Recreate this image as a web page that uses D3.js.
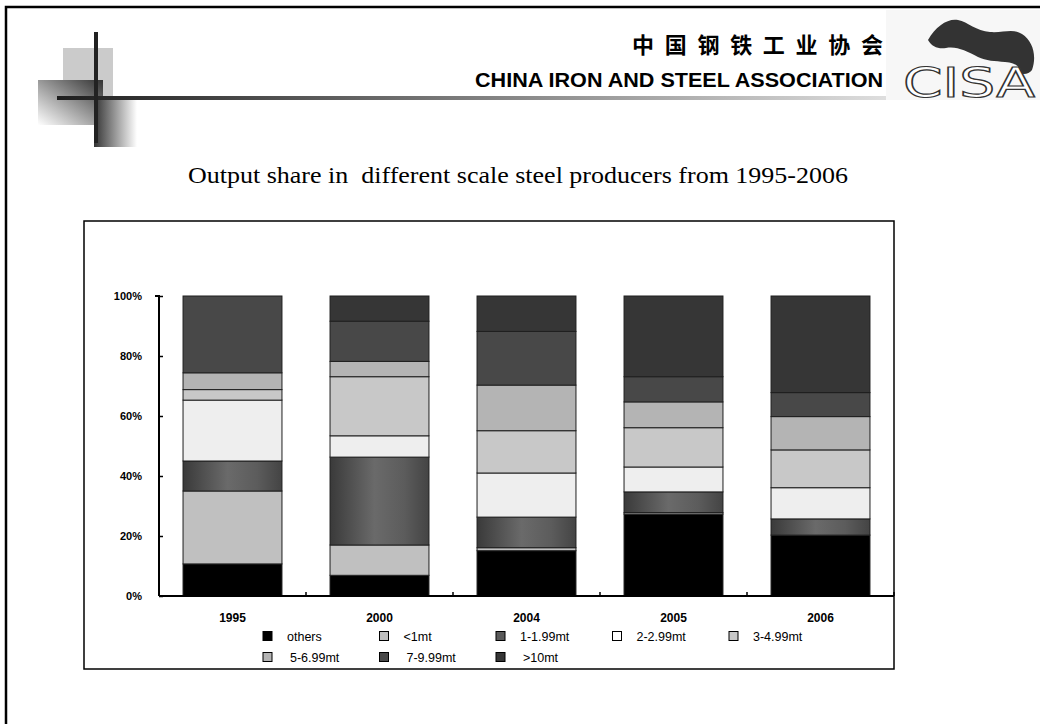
<!DOCTYPE html>
<html>
<head>
<meta charset="utf-8">
<script src="https://cdn.jsdelivr.net/npm/d3@7"></script>
<style>
  body { margin: 0; background: #fff; }
  svg { display: block; }
</style>
</head>
<body>
<div id="slide"></div>
<script>
// values, percent of total output
var years = ["1995", "2000", "2004", "2005", "2006"];
var others = [10.7, 6.9, 15.1, 27.3, 20.3];
var under1 = [24.3, 10.1, 1.0, 0.5, 0];
var mt1 = [10.0, 29.3, 10.2, 6.9, 5.4];
var mt2 = [20.3, 7.1, 14.7, 8.3, 10.4];
var mt3 = [3.5, 19.7, 14.1, 13.1, 12.6];
var mt5 = [5.6, 5.1, 15.2, 8.6, 11.1];
var mt7 = [25.6, 13.4, 17.9, 8.4, 8.0];
var mt10 = [0, 8.4, 11.8, 26.9, 32.2];
var seriesNames = ["others", "<1mt", "1-1.99mt", "2-2.99mt", "3-4.99mt", "5-6.99mt", "7-9.99mt", ">10mt"];
var yTicks = [0, 20, 40, 60, 80, 100];

var barFill = ["#000000", "#c0c0c0", "url(#gradMid)", "#eeeeee", "#c8c8c8", "#b4b4b4", "#484848", "#363636"];
var keyFill = ["#000000", "#c0c0c0", "#5a5a5a", "#ffffff", "#c8c8c8", "#b4b4b4", "#484848", "#363636"];

var width = 1040, height = 724;

var svg = d3.select('#slide').append('svg')
  .attr('width', width)
  .attr('height', height);

var defs = svg.append('defs');

var gm = defs.append('linearGradient').attr('id', 'gradMid');
gm.append('stop').attr('offset', '0%').attr('stop-color', '#3a3a3a');
gm.append('stop').attr('offset', '45%').attr('stop-color', '#6a6a6a');
gm.append('stop').attr('offset', '75%').attr('stop-color', '#5c5c5c');
gm.append('stop').attr('offset', '100%').attr('stop-color', '#444444');

var gd = defs.append('linearGradient').attr('id', 'gradDiag')
  .attr('x1', 1).attr('y1', 0).attr('x2', 0).attr('y2', 1);
gd.append('stop').attr('offset', '0%').attr('stop-color', '#333333');
gd.append('stop').attr('offset', '100%').attr('stop-color', '#ffffff');

var gh = defs.append('linearGradient').attr('id', 'gradStrip');
gh.append('stop').attr('offset', '0%').attr('stop-color', '#333333');
gh.append('stop').attr('offset', '100%').attr('stop-color', '#ffffff');

var gl = defs.append('linearGradient').attr('id', 'gradLine');
gl.append('stop').attr('offset', '0%').attr('stop-color', '#1e1e1e');
gl.append('stop').attr('offset', '100%').attr('stop-color', '#dedede');

// slide frame
svg.append('path')
  .attr('d', 'M6,724 V7 H1040')
  .attr('fill', 'none')
  .attr('stroke', '#000')
  .attr('stroke-width', 2.5);

// header ornament
var head = svg.append('g');
head.append('rect').attr('x', 63).attr('y', 48).attr('width', 50).attr('height', 52).attr('fill', '#cbcbcb');
head.append('rect').attr('x', 38).attr('y', 80).attr('width', 65).attr('height', 45).attr('fill', 'url(#gradDiag)');
head.append('rect').attr('x', 94).attr('y', 100).attr('width', 43).attr('height', 47).attr('fill', 'url(#gradStrip)');
head.append('rect').attr('x', 57).attr('y', 96).attr('width', 830).attr('height', 4).attr('fill', 'url(#gradLine)');
head.append('rect').attr('x', 94).attr('y', 32).attr('width', 4).attr('height', 111).attr('fill', '#222');

head.append('text')
  .attr('x', 883).attr('y', 53)
  .attr('text-anchor', 'end')
  .attr('textLength', 251)
  .attr('lengthAdjust', 'spacing')
  .style('font-family', '"Noto Sans CJK SC", sans-serif')
  .style('font-weight', 'bold')
  .style('font-size', '22px')
  .text('中国钢铁工业协会');

head.append('text')
  .attr('x', 883).attr('y', 87)
  .attr('text-anchor', 'end')
  .attr('textLength', 408)
  .attr('lengthAdjust', 'spacingAndGlyphs')
  .style('font-family', '"Liberation Sans", Arial, sans-serif')
  .style('font-weight', 'bold')
  .style('font-size', '21px')
  .text('CHINA IRON AND STEEL ASSOCIATION');

// CISA logo
var logo = svg.append('g');
logo.append('rect').attr('x', 886).attr('y', 10).attr('width', 154).attr('height', 90).attr('fill', '#f7f7f7');
logo.append('path')
  .attr('d', 'M928,40 C936,26 948,18 958,20 C968,22 976,31 990,32 C1004,33 1012,28 1022,34 C1033,41 1037,56 1032,70 C1029,74 1024,75 1019,73 C1021,66 1015,63 1005,62 C995,61 986,61 978,57 C966,51 957,46 946,48 C938,49 932,47 928,40 Z')
  .attr('fill', '#333');
logo.append('text')
  .attr('x', 903).attr('y', 97)
  .attr('textLength', 132)
  .attr('lengthAdjust', 'spacingAndGlyphs')
  .attr('fill', '#fff')
  .attr('stroke', '#333')
  .attr('stroke-width', 1.2)
  .style('font-family', '"DejaVu Sans", sans-serif')
  .style('font-size', '40px')
  .text('CISA');

// title
svg.append('text')
  .attr('x', 518).attr('y', 183)
  .attr('text-anchor', 'middle')
  .attr('textLength', 660)
  .attr('lengthAdjust', 'spacingAndGlyphs')
  .style('white-space', 'pre')
  .style('font-family', '"Liberation Serif", "Times New Roman", serif')
  .style('font-size', '24px')
  .text('Output share in  different scale steel producers from 1995-2006');

// chart box
svg.append('rect')
  .attr('x', 84).attr('y', 221)
  .attr('width', 810).attr('height', 448)
  .attr('fill', 'none')
  .attr('stroke', '#000')
  .attr('stroke-width', 1.5);

var table = years.map(function (yr, i) {
  return {
    year: yr,
    'others': others[i], '<1mt': under1[i], '1-1.99mt': mt1[i], '2-2.99mt': mt2[i],
    '3-4.99mt': mt3[i], '5-6.99mt': mt5[i], '7-9.99mt': mt7[i], '>10mt': mt10[i]
  };
});

var x = d3.scaleBand()
  .domain(years)
  .range([159, 894])
  .paddingInner(0.327)
  .paddingOuter(0.1635);

var y = d3.scaleLinear()
  .domain([0, 100])
  .range([596, 296]);

var stacked = d3.stack().keys(seriesNames)(table);

var layers = svg.append('g').selectAll('g')
  .data(stacked)
  .enter().append('g')
  .attr('fill', function (d, i) { return barFill[i]; });

layers.selectAll('rect')
  .data(function (d) { return d.filter(function (s) { return s[1] - s[0] > 0; }); })
  .enter().append('rect')
  .attr('x', function (d) { return x(d.data.year); })
  .attr('y', function (d) { return y(d[1]); })
  .attr('width', x.bandwidth())
  .attr('height', function (d) { return y(d[0]) - y(d[1]); })
  .attr('stroke', '#1e1e1e')
  .attr('stroke-width', 1);

// y axis, ticks point into the plot
var yAxis = svg.append('g')
  .attr('transform', 'translate(159,0)')
  .call(d3.axisLeft(y).tickValues(yTicks).tickSize(-4).tickPadding(17)
    .tickFormat(function (d) { return d + '%'; }));
yAxis.select('.domain').attr('stroke-width', 2).attr('d', 'M-4,296 H0 V596');
yAxis.selectAll('.tick line').attr('stroke-width', 1.5);
yAxis.selectAll('text')
  .style('font-family', '"Liberation Sans", Arial, sans-serif')
  .style('font-weight', 'bold')
  .style('font-size', '11px');

// x axis
var xAxis = svg.append('g')
  .attr('transform', 'translate(0,596)')
  .call(d3.axisBottom(x).tickSize(0).tickPadding(17));
xAxis.select('.domain').attr('stroke-width', 2).attr('d', 'M159,0 H894');
xAxis.selectAll('text')
  .style('font-family', '"Liberation Sans", Arial, sans-serif')
  .style('font-weight', 'bold')
  .style('font-size', '12px');

var half = x.step() * x.paddingInner() / 2;
xAxis.selectAll('.boundary')
  .data(years)
  .enter().append('line')
  .attr('class', 'boundary')
  .attr('x1', function (d) { return x(d) + x.bandwidth() + half; })
  .attr('x2', function (d) { return x(d) + x.bandwidth() + half; })
  .attr('y1', 0).attr('y2', -4)
  .attr('stroke', '#000')
  .attr('stroke-width', 1.5);

// legend, 5 columns
var legend = svg.append('g').selectAll('g')
  .data(seriesNames)
  .enter().append('g')
  .attr('transform', function (d, i) {
    return 'translate(' + (263 + (i % 5) * 116.5) + ',' + (636 + Math.floor(i / 5) * 21) + ')';
  });

legend.append('rect')
  .attr('x', 0).attr('y', -4.5)
  .attr('width', 9).attr('height', 9)
  .attr('fill', function (d, i) { return keyFill[i]; })
  .attr('stroke', '#000')
  .attr('stroke-width', 1);

legend.append('text')
  .attr('x', function (d, i) { return i >= 5 ? 27 : 24; })
  .attr('y', 4.5)
  .style('font-family', '"Liberation Sans", Arial, sans-serif')
  .style('font-size', '12.5px')
  .text(function (d) { return d; });
</script>
</body>
</html>
